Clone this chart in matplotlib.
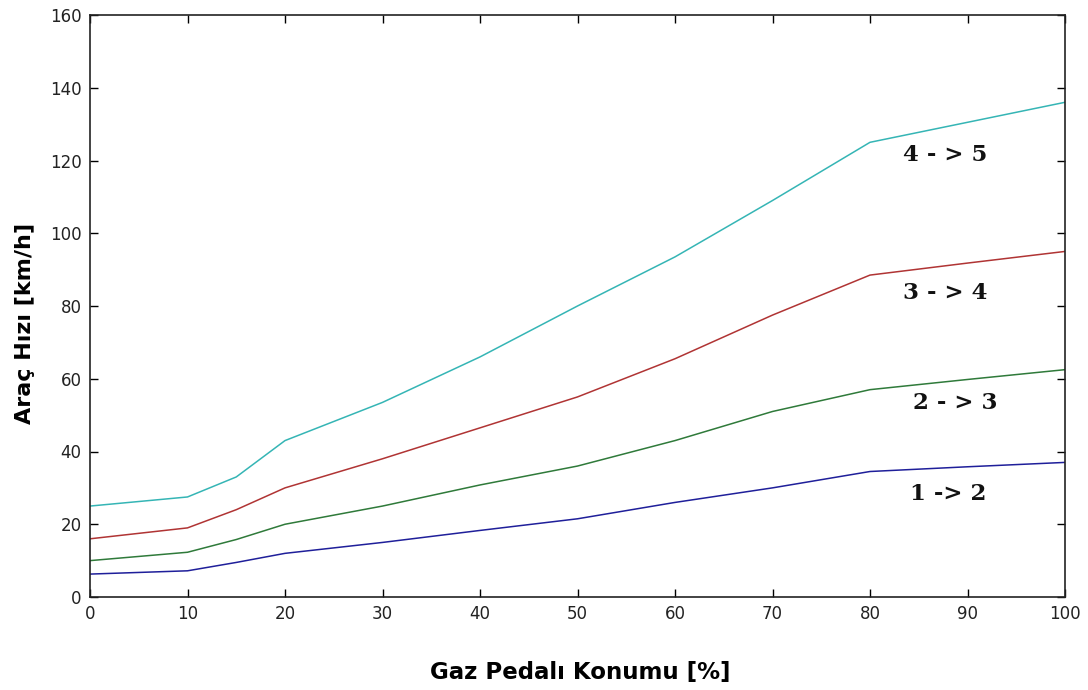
import numpy as np
import matplotlib.pyplot as plt

# gaz pedalı konumu (%) ve vites geçiş hızları (km/h)
pedal = [0, 10, 15, 20, 30, 40, 50, 60, 70, 80, 90, 100]
v12 = [6.3, 7.2, 9.5, 12.0, 15.0, 18.3, 21.5, 26.0, 30.0, 34.5, 35.8, 37.0]
v23 = [10.0, 12.3, 15.8, 20.0, 25.0, 30.8, 36.0, 43.0, 51.0, 57.0, 59.8, 62.5]
v34 = [16.0, 19.0, 24.0, 30.0, 38.0, 46.5, 55.0, 65.5, 77.5, 88.5, 91.8, 95.0]
v45 = [25.0, 27.5, 33.0, 43.0, 53.5, 66.0, 80.0, 93.5, 109.0, 125.0, 130.5, 136.0]

series = [v12, v23, v34, v45]
colors = ['#1f1f9a', '#2f7a3a', '#b03434', '#35b5b5']
labels = ['1 -> 2', '2 - > 3', '3 - > 4', '4 - > 5']
label_pos = [(88.0, 28.3), (88.7, 53.3), (87.7, 83.6), (87.7, 121.5)]

fig = plt.figure(figsize=(10.88, 6.9), dpi=100)
ax = fig.add_axes([90 / 1088, 1 - 597 / 690, 975 / 1088, 582 / 690])

for y, c in zip(series, colors):
    ax.plot(pedal, y, color=c, lw=1.1)

for txt, (x, y) in zip(labels, label_pos):
    ax.text(x, y, txt, ha='center', va='center', fontsize=16.5,
            fontweight='bold', family='DejaVu Serif', color='#111111')

ax.set_xlim(0, 100)
ax.set_ylim(0, 160)
ax.set_xticks(np.arange(0, 101, 10))
ax.set_yticks(np.arange(0, 161, 20))
ax.tick_params(direction='in', top=True, right=True, length=6, width=1,
               labelsize=12, labelcolor='#222222', pad=6)
for s in ax.spines.values():
    s.set_linewidth(1.2)
    s.set_color('#222222')

fig.text(580 / 1088, 1 - 672 / 690, 'Gaz Pedalı Konumu [%]', ha='center',
         va='center', fontsize=16.5, fontweight='bold')
fig.text(25 / 1088, 1 - 323 / 690, 'Araç Hızı [km/h]', ha='center',
         va='center', rotation=90, fontsize=16, fontweight='bold')

fig.savefig('out.png', dpi=100)
